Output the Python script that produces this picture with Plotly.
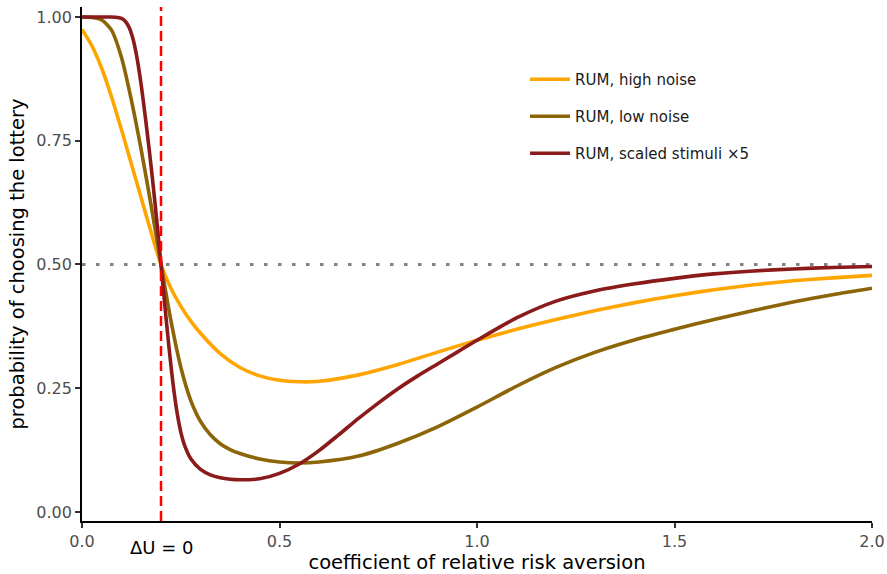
import plotly.graph_objects as go

# coefficient of relative risk aversion at which each curve is sampled
r_high = [0.0, 0.025, 0.05, 0.075, 0.1, 0.125, 0.15, 0.175, 0.2, 0.225, 0.25, 0.275,
          0.3, 0.35, 0.4, 0.45, 0.5, 0.55, 0.6, 0.7, 0.8, 0.9, 1.0, 1.1, 1.2, 1.3,
          1.4, 1.5, 1.6, 1.7, 1.8, 1.9, 2.0]
p_high_noise = [0.975, 0.942, 0.896, 0.838, 0.772, 0.703, 0.634, 0.565, 0.500, 0.452,
                0.416, 0.386, 0.361, 0.320, 0.292, 0.275, 0.266, 0.263, 0.264, 0.277,
                0.298, 0.323, 0.347, 0.369, 0.389, 0.407, 0.423, 0.437, 0.449, 0.459,
                0.467, 0.473, 0.478]

r_low = [0.0, 0.025, 0.05, 0.075, 0.1, 0.125, 0.15, 0.175, 0.2, 0.225, 0.25, 0.275,
         0.3, 0.325, 0.35, 0.375, 0.4, 0.45, 0.5, 0.55, 0.6, 0.7, 0.8, 0.9, 1.0, 1.1,
         1.2, 1.3, 1.4, 1.5, 1.6, 1.7, 1.8, 1.9, 2.0]
p_low_noise = [1.000, 0.999, 0.994, 0.973, 0.918, 0.832, 0.731, 0.619, 0.500, 0.387,
               0.293, 0.226, 0.183, 0.156, 0.138, 0.126, 0.118, 0.107, 0.101, 0.099,
               0.101, 0.113, 0.139, 0.172, 0.212, 0.254, 0.292, 0.323, 0.348, 0.369,
               0.389, 0.407, 0.424, 0.439, 0.452]

r_scaled = [0.0, 0.05, 0.075, 0.09, 0.1, 0.11, 0.12, 0.13, 0.14, 0.15, 0.16, 0.17,
            0.18, 0.19, 0.2, 0.21, 0.22, 0.23, 0.24, 0.25, 0.26, 0.275, 0.3, 0.325,
            0.35, 0.375, 0.4, 0.45, 0.5, 0.55, 0.6, 0.65, 0.7, 0.75, 0.8, 0.85, 0.9,
            0.95, 1.0, 1.1, 1.2, 1.3, 1.4, 1.5, 1.6, 1.7, 1.8, 1.9, 2.0]
p_scaled = [1.000, 1.000, 1.000, 0.999, 0.997, 0.991, 0.978, 0.953, 0.914, 0.862,
            0.800, 0.733, 0.661, 0.583, 0.500, 0.415, 0.334, 0.262, 0.204, 0.162,
            0.134, 0.108, 0.086, 0.075, 0.069, 0.066, 0.065, 0.067, 0.078, 0.097,
            0.124, 0.156, 0.189, 0.220, 0.249, 0.275, 0.299, 0.323, 0.347, 0.392,
            0.426, 0.447, 0.461, 0.472, 0.481, 0.487, 0.491, 0.494, 0.496]

series_names = ["RUM, high noise", "RUM, low noise", "RUM, scaled stimuli \u00d75"]
series_colors = ["#FFA500", "#8B6508", "#8B1A1A"]

indifference_r = 0.2   # risk aversion at which the utility difference is zero
chance_level = 0.5

x_range = [0.0, 2.0]
x_ticks = [0.0, 0.5, 1.0, 1.5, 2.0]
x_tick_text = ["0.0", "0.5", "1.0", "1.5", "2.0"]
y_ticks = [0.0, 0.25, 0.5, 0.75, 1.0]
y_tick_text = ["0.00", "0.25", "0.50", "0.75", "1.00"]

FONT = "DejaVu Sans"

fig = go.Figure()

# horizontal reference at the chance level
fig.add_trace(go.Scatter(
    x=x_range, y=[chance_level, chance_level], mode="lines",
    line=dict(color="#808080", width=3, dash="3.5px,10.5px"),
    showlegend=False, hoverinfo="skip"))

for name, col, xs, ys in zip(series_names, series_colors,
                             [r_high, r_low, r_scaled],
                             [p_high_noise, p_low_noise, p_scaled]):
    fig.add_trace(go.Scatter(
        x=xs, y=ys, mode="lines", name=name, legendgroup=name,
        line=dict(color=col, width=3.6, shape="spline", smoothing=0.7)))

# vertical line where delta U = 0
fig.add_shape(type="line", xref="x", yref="paper",
              x0=indifference_r, x1=indifference_r, y0=0, y1=1,
              line=dict(color="#FF0000", width=2.5, dash="10px,5px"))

fig.add_annotation(x=indifference_r, xref="x", y=-0.051, yref="paper",
                   text="\u0394U = 0", showarrow=False,
                   font=dict(family=FONT, size=18, color="black"),
                   xanchor="center", yanchor="middle")

axis_common = dict(showgrid=False, zeroline=False, showline=True,
                   linecolor="black", linewidth=1.8, ticks="outside",
                   ticklen=5, tickwidth=1.5, tickcolor="#333333",
                   tickfont=dict(family=FONT, size=16, color="#4D4D4D"))

fig.update_xaxes(range=x_range, tickvals=x_ticks, ticktext=x_tick_text,
                 automargin=False,
                 title=dict(text="coefficient of relative risk aversion",
                            font=dict(family=FONT, size=19.5, color="black")),
                 **axis_common)
fig.update_yaxes(range=[-0.0182, 1.0202], tickvals=y_ticks, ticktext=y_tick_text,
                 automargin=True,
                 title=dict(text="probability of choosing the lottery",
                            font=dict(family=FONT, size=19.5, color="black"),
                            standoff=6),
                 **axis_common)

fig.update_layout(
    width=887, height=574,
    margin=dict(l=82, r=15, t=7, b=53),
    paper_bgcolor="white", plot_bgcolor="white",
    showlegend=True,
    legend=dict(x=0.5608, y=0.891, xanchor="left", yanchor="top",
                font=dict(family=FONT, size=15, color="#1A1A1A"),
                itemwidth=40, tracegroupgap=14.5, bgcolor="rgba(0,0,0,0)"),
)

fig.write_html("out.html")
